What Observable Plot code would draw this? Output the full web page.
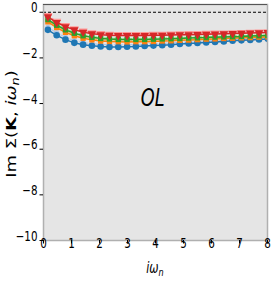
<!DOCTYPE html>
<html><head><meta charset="utf-8">
<script src="https://cdn.jsdelivr.net/npm/d3@7"></script>
<script src="https://cdn.jsdelivr.net/npm/@observablehq/plot@0.6"></script>
<style>html,body{margin:0;padding:0;background:#fff} svg{display:block}</style>
</head><body><div id="chart"></div>
<script>
// Matsubara frequencies (x positions of markers)
const omega = [0.157,0.471,0.785,1.100,1.414,1.728,2.042,2.356,2.670,2.985,3.299,3.613,3.927,4.241,4.555,4.869,5.184,5.498,5.812,6.126,6.440,6.754,7.069,7.383,7.697,8.011];
const red        = [-0.20,-0.45,-0.63,-0.77,-0.87,-0.94,-0.98,-1.01,-1.02,-1.02,-1.02,-1.02,-1.01,-1.01,-1.00,-0.99,-0.98,-0.97,-0.96,-0.95,-0.94,-0.93,-0.92,-0.91,-0.90,-0.89];
const pink       = [-0.15,-0.40,-0.59,-0.73,-0.83,-0.90,-0.94,-0.97,-0.98,-0.98,-0.98,-0.98,-0.97,-0.97,-0.96,-0.95,-0.94,-0.94,-0.93,-0.92,-0.91,-0.90,-0.89,-0.88,-0.87,-0.86];
const green      = [-0.32,-0.57,-0.77,-0.92,-1.03,-1.10,-1.15,-1.17,-1.19,-1.19,-1.19,-1.19,-1.18,-1.17,-1.16,-1.15,-1.13,-1.12,-1.11,-1.09,-1.08,-1.07,-1.06,-1.04,-1.03,-1.02];
const lightGreen = [-0.28,-0.53,-0.73,-0.88,-0.99,-1.06,-1.11,-1.13,-1.15,-1.15,-1.15,-1.15,-1.14,-1.13,-1.12,-1.11,-1.10,-1.09,-1.07,-1.06,-1.05,-1.04,-1.03,-1.02,-1.01,-1.00];
const orange     = [-0.42,-0.67,-0.88,-1.03,-1.14,-1.21,-1.26,-1.28,-1.29,-1.30,-1.29,-1.29,-1.28,-1.26,-1.25,-1.23,-1.22,-1.20,-1.18,-1.17,-1.15,-1.14,-1.12,-1.11,-1.09,-1.08];
const lightOrange= [-0.38,-0.62,-0.83,-0.98,-1.09,-1.16,-1.21,-1.23,-1.25,-1.25,-1.25,-1.24,-1.23,-1.22,-1.21,-1.19,-1.18,-1.16,-1.15,-1.13,-1.12,-1.10,-1.09,-1.08,-1.06,-1.05];
const blue       = [-0.77,-1.01,-1.20,-1.34,-1.42,-1.47,-1.50,-1.52,-1.52,-1.51,-1.50,-1.48,-1.46,-1.44,-1.42,-1.39,-1.37,-1.35,-1.32,-1.30,-1.28,-1.25,-1.23,-1.21,-1.19,-1.17];
const lightBlue  = [-0.66,-0.90,-1.10,-1.24,-1.33,-1.38,-1.41,-1.42,-1.43,-1.42,-1.41,-1.40,-1.38,-1.36,-1.34,-1.32,-1.30,-1.28,-1.26,-1.24,-1.22,-1.20,-1.18,-1.16,-1.14,-1.12];
const xTicks = [0,1,2,3,4,5,6,7,8];
const yTicks = [0,-2,-4,-6,-8,-10];
const panelLabel = "OL";

const triangleDown = {
  draw(ctx, size) {
    const y = Math.sqrt(size / (Math.sqrt(3) * 3));
    ctx.moveTo(0, 2 * y);
    ctx.lineTo(-Math.sqrt(3) * y, -y);
    ctx.lineTo(Math.sqrt(3) * y, -y);
    ctx.closePath();
  }
};

const series = [
  {vals: lightBlue,   color: "#aec7e8", symbol: "circle", r: 2.6, dash: "3,2", w: 1.2},
  {vals: lightOrange, color: "#ffbb78", symbol: "square", r: 2.4, dash: "3,2", w: 1.2},
  {vals: lightGreen,  color: "#98df8a", symbol: "square", r: 2.4, dash: "3,2", w: 1.2},
  {vals: pink,        color: "#ff9896", symbol: triangleDown, r: 3.4, dash: "3,2", w: 1.2},
  {vals: blue,        color: "#1f77b4", symbol: "circle", r: 3.3, dash: null, w: 1.5},
  {vals: orange,      color: "#ff7f0e", symbol: "square", r: 3.0, dash: null, w: 1.5},
  {vals: green,       color: "#2ca02c", symbol: "square", r: 3.0, dash: null, w: 1.5},
  {vals: red,         color: "#d62728", symbol: triangleDown, r: 3.2, dash: null, w: 1.5}
];

const seriesMarks = series.flatMap(s => {
  const rows = omega.map((w, i) => ({w, v: s.vals[i]}));
  return [
    Plot.line(rows, {x: "w", y: "v", stroke: s.color, strokeWidth: s.w, strokeDasharray: s.dash, clip: true}),
    Plot.dot(rows, {x: "w", y: "v", fill: s.color, stroke: "none", symbol: s.symbol, r: s.r, clip: true})
  ];
});

const chart = Plot.plot({
  width: 274, height: 283,
  marginLeft: 43, marginRight: 7, marginTop: 4, marginBottom: 43,
  style: {background: "#fff", fontFamily: "DejaVu Sans", color: "#000"},
  x: {domain: [0, 8]},
  y: {domain: [-10, 0.34]},
  marks: [
    Plot.frame({fill: "#e5e5e5", stroke: "none"}),
    Plot.ruleY([0], {x1: 0, x2: 8, stroke: "#000", strokeWidth: 1, strokeDasharray: "3,2"}),
    ...seriesMarks,
    Plot.text([panelLabel], {x: () => 3.9, y: () => -4.1, text: d => d, fontSize: 24, fontStyle: "italic", fill: "#000"}),
    Plot.frame({stroke: "#b0b0b0", strokeWidth: 1.5}),
    Plot.ruleY([0.34], {stroke: "#555", strokeWidth: 1}),
    Plot.axisX({ticks: xTicks, tickSize: 3.5, tickPadding: 4, fontSize: 14, label: null, tickFormat: d => String(d)}),
    Plot.axisY({ticks: yTicks, tickSize: 3.5, tickPadding: 2.5, fontSize: 14, label: null,
                tickFormat: d => d < 0 ? "\u2212" + (-d) : String(d)})
  ]
});

document.getElementById("chart").appendChild(chart);
const svg = d3.select(chart);
const S = 0.74;
// horizontally squeeze all text to match the reference's narrow glyphs
chart.querySelectorAll("text").forEach(el => {
  const tr = el.getAttribute("transform") || "";
  const x = +el.getAttribute("x") || 0, y = +el.getAttribute("y") || 0;
  el.removeAttribute("x"); el.removeAttribute("y");
  el.setAttribute("transform", `${tr} translate(${x},${y}) scale(${S},1)`);
});

// y-axis label
const yl = svg.append("text")
  .attr("transform", `translate(16,124) rotate(-90) scale(1,${S})`)
  .attr("text-anchor", "middle")
  .attr("font-family", "DejaVu Sans").attr("font-size", 18).attr("fill", "#000");
yl.append("tspan").text("Im \u03A3(");
yl.append("tspan").attr("font-weight", "bold").text("K");
yl.append("tspan").text(", ");
yl.append("tspan").attr("font-style", "italic").text("i\u03C9");
yl.append("tspan").attr("font-style", "italic").attr("font-size", 13).attr("dy", 4).text("n");
yl.append("tspan").attr("dy", -4).text(")");

// x-axis label
const xl = svg.append("text")
  .attr("transform", `translate(155,273) scale(${S},1)`)
  .attr("text-anchor", "middle")
  .attr("font-family", "DejaVu Sans").attr("font-size", 15).attr("fill", "#000");
xl.append("tspan").attr("font-style", "italic").text("i\u03C9");
xl.append("tspan").attr("font-style", "italic").attr("font-size", 11).attr("dy", 3).text("n");
</script>
</body></html>
